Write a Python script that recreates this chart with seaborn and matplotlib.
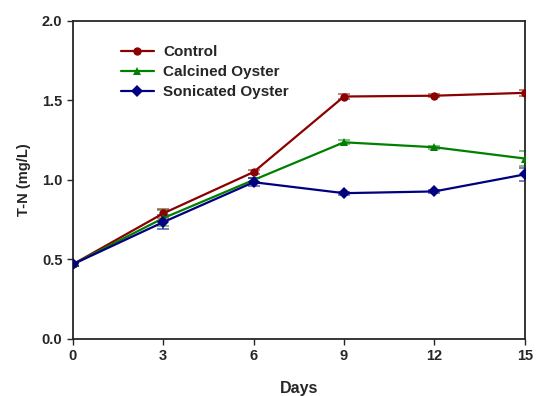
import matplotlib
matplotlib.use('Agg')
import matplotlib.pyplot as plt
import pandas as pd
import seaborn as sns

days = [0, 3, 6, 9, 12, 15]
control = [0.47, 0.79, 1.05, 1.525, 1.53, 1.548]
calcined = [0.47, 0.76, 1.00, 1.237, 1.206, 1.135]
sonicated = [0.47, 0.735, 0.986, 0.917, 0.928, 1.035]
control_err = [0.01, 0.03, 0.01, 0.015, 0.008, 0.02]
calcined_err = [0.01, 0.05, 0.01, 0.012, 0.01, 0.05]
sonicated_err = [0.01, 0.045, 0.025, 0.01, 0.01, 0.04]

names = ['Control', 'Calcined Oyster', 'Sonicated Oyster']
colors = ['#8B0000', '#008000', '#000080']
markers = ['o', '^', 'D']

sns.set_style('ticks')
plt.rcParams['font.family'] = ['Liberation Sans', 'DejaVu Sans']
plt.rcParams['font.weight'] = 'bold'

df = pd.DataFrame({
    'Days': days * 3,
    'value': control + calcined + sonicated,
    'err': control_err + calcined_err + sonicated_err,
    'group': [n for n in names for _ in days],
})

fig = plt.figure(figsize=(5.36, 3.96), dpi=100)
ax = fig.add_axes([0.136, 0.144, 0.843, 0.803])

for name, c, m in zip(names, colors, markers):
    sub = df[df.group == name]
    ax.errorbar(sub.Days, sub.value, yerr=sub.err, fmt='none', ecolor=c,
                elinewidth=1.2, capsize=4, capthick=1.2, alpha=0.6, zorder=2)

sns.lineplot(data=df, x='Days', y='value', hue='group', style='group',
             palette=colors, markers=markers, dashes=False, markersize=6,
             linewidth=1.6, markeredgewidth=0, ax=ax, zorder=3)

ax.set_xlim(0, 15)
ax.set_ylim(0, 2.0)
ax.set_xticks(days)
ax.set_yticks([0.0, 0.5, 1.0, 1.5, 2.0])
ax.set_yticklabels(['0.0', '0.5', '1.0', '1.5', '2.0'])
ax.tick_params(labelsize=10.5, width=1, length=4, direction='out')
for lab in ax.get_xticklabels() + ax.get_yticklabels():
    lab.set_fontweight('bold')
ax.set_xlabel('Days', fontsize=11.5, fontweight='bold', labelpad=13)
ax.set_ylabel('T-N (mg/L)', fontsize=10.5, fontweight='bold', labelpad=8)
for s in ax.spines.values():
    s.set_linewidth(1.3)
    s.set_visible(True)

ax.legend(frameon=False, loc='upper left', bbox_to_anchor=(0.075, 0.968),
          prop={'weight': 'bold', 'size': 11}, handlelength=2.2,
          labelspacing=0.4, handletextpad=0.6, title=None)

fig.savefig('out.png', dpi=100)
